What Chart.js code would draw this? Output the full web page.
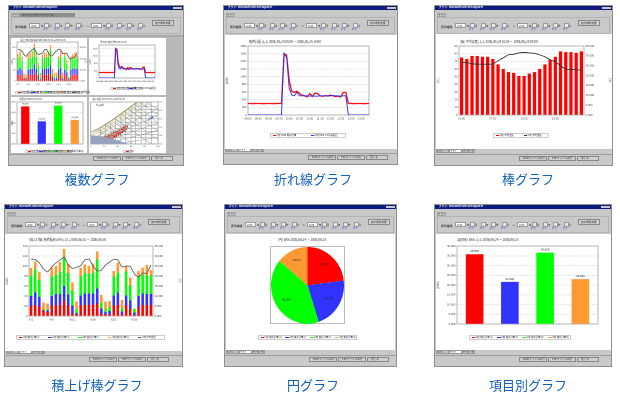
<!DOCTYPE html>
<html lang="ja">
<head>
<meta charset="utf-8">
<title>グラフ一覧</title>
<script src="https://cdn.jsdelivr.net/npm/chart.js"></script>
<style>
  html, body { margin: 0; padding: 0; background: #fff; overflow: hidden; }
  body { width: 620px; height: 402px; position: relative; font-family: "Noto Sans CJK JP", sans-serif; }
  #stage { position: absolute; left: 0; top: 0; width: 620px; height: 402px; filter: blur(0.4px); }
  #stage div, #stage canvas { position: absolute; box-sizing: border-box; }
  .cap { position: absolute; width: 160px; text-align: center; font-size: 13px; line-height: 16px; color: #1260bd; }
  .t { white-space: nowrap; line-height: 1; color: #333; font-size: 3px; }
</style>
</head>
<body>
<div id="stage"></div>
<script>
// ---- data ----
const captions = ['複数グラフ', '折れ線グラフ', '棒グラフ', '積上げ棒グラフ', '円グラフ', '項目別グラフ'];

// line chart
const lineTicks = ['08:00', '08:30', '09:00', '09:30', '10:00', '10:30', '11:00', '11:30', '12:00', '12:30', '13:00', '13:30'];
const lineNames = ['U棟 total 負荷計量', 'U棟 total 2003実績値'];
const lineRed = [300, 300, 295, 300, 300, 300, 295, 300, 300, 300, 295, 300, 300, 300, 1600, 1560, 900, 620, 590, 620, 560, 520, 500, 470, 560, 480, 570, 560, 500, 490, 500, 500, 520, 500, 480, 490, 470, 590, 590, 300, 300, 295, 300, 300, 300, 295, 300, 300];
const lineBlue = [0, 0, 0, 0, 0, 0, 0, 0, 0, 0, 0, 0, 0, 0, 1600, 1500, 700, 520, 500, 600, 500, 500, 500, 500, 490, 500, 490, 490, 500, 500, 500, 490, 500, 510, 500, 500, 490, 500, 500, 0, 0, 0, 0, 0, 0, 0, 0, 0];

// bar chart with line
const barHours = ['01:00', '', '', '', '', '', '07:00', '', '', '', '', '', '13:00', '', '', '', '', '', '19:00', '', '', '', '', ''];
const barNames = ['U棟 平均温度', 'U棟 平均湿度'];
const barValues = [75, 73, 77, 77, 76, 76, 73, 66, 60, 56, 55, 51, 51, 54, 56, 60, 66, 72, 76, 83, 82, 82, 81, 83];
const barLine = [26.6, 26.6, 26, 25.8, 25.8, 25.8, 25.9, 27.5, 29, 30.5, 30.8, 31.5, 31.7, 31.5, 31.2, 30.5, 29.5, 28, 27, 25, 23.3, 23, 23, 22.7];

// stacked chart
const stackDays = ['6/1', '', '', '', '', '6/6', '', '', '', '', '6/11', '', '', '', '', '6/16', '', '', '', '', '6/21', '', '', '', '', '6/26', '', '', '', ''];
const stackNames = ['U棟 負荷計量(1)', 'U棟 負荷計量(2)', 'U棟 負荷計量(3)', 'U棟 負荷計量(4)', 'U棟 平均温度'];
const stackRed = [20, 22, 18, 11, 8, 20, 22, 22, 30, 21, 6, 3, 21, 23, 22, 23, 25, 5, 3, 3, 21, 22, 3, 21, 14, 2, 17, 22, 22, 22];
const stackBlue = [20, 25, 20, 1, 3, 20, 22, 22, 30, 22, 15, 3, 20, 22, 23, 22, 30, 10, 5, 7, 20, 25, 6, 20, 17, 5, 23, 23, 22, 22];
const stackGreen = [40, 46, 34, 1, 3, 38, 38, 44, 57, 43, 30, 7, 38, 41, 39, 42, 58, 11, 5, 8, 38, 40, 7, 48, 30, 8, 40, 37, 38, 37];
const stackOrange = [16, 16, 16, 14, 11, 19, 18, 20, 17, 18, 16, 16, 17, 17, 16, 18, 16, 16, 16, 12, 11, 20, 16, 11, 16, 0, 10, 15, 20, 11];
const stackLine = [28.5, 28.2, 26.5, 23.5, 22, 24.5, 26.5, 28, 29.5, 25.5, 23.8, 24.3, 25.2, 28, 28.5, 25, 22.5, 22.8, 25.5, 27, 28.3, 28, 24.5, 25, 24.8, 21, 19.5, 21.5, 21.3, 25.5];

// pie and item charts
const itemNames = ['U棟 負荷計量(1)', 'U棟 負荷計量(2)', 'U棟 負荷計量(3)', 'U棟 負荷計量(4)'];
const itemValues = [35800, 21600, 36600, 23000];
const pieValues = [23, 22, 41, 14];
const itemColors = ['#ff0000', '#3333ff', '#00ff00', '#ff9933'];

// psychrometric chart, x/y on a 0-100 frame
const satCurve = [[1, 28], [15, 40], [30, 55], [45, 72], [60, 90], [69, 100]];
const coldZone = [[0, 20], [20, 17], [40, 8], [55, 0]];
const beigeLines = [[[0, 20], [72, 100]], [[3, 18], [76, 100]], [[7, 16], [80, 100]], [[5, 33], [28, 18]], [[10, 37], [32, 20]], [[15, 41], [36, 22]], [[20, 46], [41, 26]], [[25, 51], [46, 30]], [[30, 56], [51, 34]], [[35, 61], [56, 38]], [[40, 66], [61, 43]], [[45, 72], [66, 48]], [[50, 78], [71, 54]], [[55, 84], [76, 60]], [[60, 90], [81, 66]]];
const meshLines = [[[15, 0], [15, 40]], [[22, 0], [22, 47]], [[30, 0], [30, 55]], [[37, 0], [37, 63]], [[45, 0], [45, 72]], [[52, 0], [52, 80]], [[60, 0], [60, 90]], [[67, 0], [67, 98]], [[75, 0], [75, 100]], [[82, 0], [82, 100]], [[90, 0], [90, 100]], [[20, 15], [100, 15]], [[25, 22], [100, 22]], [[30, 30], [100, 30]], [[35, 37], [100, 37]], [[40, 45], [100, 45]], [[45, 52], [100, 52]], [[50, 60], [100, 60]], [[55, 67], [100, 67]], [[60, 75], [100, 75]], [[65, 82], [100, 82]], [[70, 90], [100, 90]], [[5, 12], [90, 100]], [[10, 10], [100, 85]], [[15, 8], [100, 68]], [[20, 6], [100, 50]], [[30, 4], [100, 32]], [[45, 2], [100, 16]], [[35, 62], [90, 0]], [[45, 72], [100, 10]], [[55, 84], [100, 30]], [[65, 96], [100, 50]], [[72, 100], [100, 70]], [[82, 100], [100, 82]], [[22, 48], [62, 0]], [[10, 35], [38, 0]]];
const redPoints = [[13, 10], [15, 13], [17, 9], [18, 15], [20, 11], [21, 17], [22, 8], [23, 13], [25, 18], [26, 12], [27, 21], [28, 16], [29, 10], [30, 19], [31, 23], [32, 14], [33, 20], [34, 26], [35, 17], [36, 22], [37, 28], [38, 19], [39, 25], [40, 30], [41, 22], [42, 27], [43, 33], [44, 25], [45, 30], [46, 36], [47, 28], [48, 34], [49, 39], [50, 31], [51, 37], [52, 42], [53, 35], [54, 41]];
const bluePoints = [[86, 57], [87, 59], [88, 60], [89, 61], [90, 62], [91, 63], [92, 64]];

// ---- page helpers ----
const stage = document.getElementById('stage');

function box(x, y, w, h, css) {
  const d = document.createElement('div');
  d.style.cssText = `left:${x}px;top:${y}px;width:${w}px;height:${h}px;` + (css || '');
  stage.appendChild(d);
  return d;
}

function note(x, y, text, css) {
  const d = box(x, y, 'auto', 'auto', css || '');
  d.className = 't';
  d.textContent = text;
  return d;
}

function legend(x, y, w, h, names, colors) {
  const d = box(x, y, w, h, 'background:#fff;border:1px solid #ccc;');
  const step = w / names.length;
  names.forEach((n, i) => {
    const s = document.createElement('div');
    s.style.cssText = `left:${step * i + 1.5}px;top:${h / 2 - 1.5}px;width:3.5px;height:1px;background:${colors[i]};`;
    d.appendChild(s);
    const l = document.createElement('div');
    l.className = 't';
    l.style.cssText = `left:${step * i + 5.5}px;top:${h / 2 - 2.5}px;font-size:2.4px;`;
    l.textContent = n;
    d.appendChild(l);
  });
}

// window chrome around each chart
function chrome(x, y, w, h, opt) {
  box(x, y, w, h, 'background:#c9c9c9;border:1px solid #8f8f8f;');
  box(x + 1, y + 1, w - 2, 3.5, 'background:#0b1c7e;');
  note(x + 5, y + 1.4, 'グラフ - Microsoft Internet Explorer', 'color:#fff;font-weight:700;font-size:2.6px;');
  box(x + w - 11, y + 1.5, 9, 2.5, 'background:#c6c6c6;');
  // tabs on top
  box(x + 3, y + 8, 9, 4, 'background:#d4d4d4;border:1px solid #a8a8a8;');
  note(x + 4, y + 9, opt.tabs[0], 'font-size:2.4px;');
  if (opt.tabs.length > 1) {
    box(x + 12, y + 8, 55, 4, 'background:#8d8d8d;');
    note(x + 14, y + 9, opt.tabs.slice(1).join('  '), 'font-size:2.4px;');
  }
  box(x + 3, y + 12, w - 6, 17, 'border:1px solid #b3b3b3;');
  note(x + 7, y + 20.5, '表示期間', 'font-weight:700;font-size:2.8px;');
  // the two date groups
  [21, 83].forEach(g => {
    box(x + g, y + 18, 11, 5, 'background:#fff;border:1px solid #999;');
    note(x + g + 2, y + 19.5, '2006', 'font-size:2.4px;');
    note(x + g + 12, y + 19.5, '年', 'font-size:2.4px;');
    [15, 26, 36, 47].forEach((o, i) => {
      box(x + g + o, y + 18, 4.5, 5, 'background:#e8e8e8;border:1px solid #999;');
      note(x + g + o + 5, y + 19.5, '月日時分'[i], 'font-size:2.4px;');
      note(x + g + o - 1, y + 24, '前 次', 'color:#5560d0;font-size:2px;');
    });
  });
  note(x + 78.5, y + 19.5, '～', 'font-size:2.6px;');
  box(x + 144, y + 15, 22, 5.5, 'background:#d2d2d2;border:1px solid #888;');
  note(x + 147, y + 16.5, '表示期間変更', 'font-size:2.6px;');
  // bottom bar
  box(x + 1, y + h - 12, w - 2, 1, 'background:#9d9d9d;');
  [[85, 28, 'Excelファイル出力'], [114, 28, 'PDFファイル出力'], [143, 22, '閉じる']].forEach(b => {
    box(x + b[0], y + h - 10.5, b[1], 5.5, 'background:#cfcfcf;border:1px solid #888;');
    note(x + b[0] + 4, y + h - 9, b[2], 'font-size:2.6px;');
  });
  if (opt.bottomTabs) {
    opt.bottomTabs.forEach((t, i) => {
      box(x + 2 + i * 13, y + h - 17, 13, 4, `background:${i === 1 ? '#fff' : '#c0c0c0'};border:1px solid #9a9a9a;`);
      note(x + 3 + i * 13, y + h - 16, t, 'font-size:2.2px;');
    });
  }
}

// ---- chart helpers ----
const frame = {
  id: 'frame',
  beforeDatasetsDraw(c) {
    const a = c.chartArea, g = c.ctx;
    g.save();
    g.strokeStyle = '#b4b4b4';
    g.lineWidth = 1;
    g.strokeRect(a.left, a.top, a.width, a.height);
    g.restore();
  }
};

const barLabels = {
  id: 'barLabels',
  afterDatasetsDraw(c, args, o) {
    if (!o.text) return;
    const g = c.ctx, meta = c.getDatasetMeta(0);
    g.save();
    g.font = `${o.size}px "Liberation Sans"`;
    g.fillStyle = '#222';
    g.textAlign = 'center';
    meta.data.forEach((el, i) => {
      if (o.pie) {
        const p = el.getCenterPoint();
        const a = (el.startAngle + el.endAngle) / 2;
        g.fillText(o.text[i], p.x + Math.cos(a) * el.outerRadius * 0.2, p.y + Math.sin(a) * el.outerRadius * 0.2);
      } else {
        g.fillText(o.text[i], el.x, el.y - 2);
      }
    });
    g.restore();
  }
};

function yAxis(side, width, max, step, fmt, size, title, showGrid) {
  return {
    position: side,
    min: 0,
    max: max,
    afterFit(s) { s.width = width; },
    border: { display: false, dash: [2, 1] },
    grid: { display: showGrid, color: '#cfcfcf', drawTicks: false, lineWidth: 0.6 },
    ticks: { stepSize: step, padding: 1.5, font: { size: size, family: 'Liberation Sans' }, color: '#444', callback: fmt },
    title: { display: true, text: title, font: { size: size, family: 'Noto Sans CJK JP' }, color: '#444', padding: 0 }
  };
}

function xAxis(height, size, extra) {
  return Object.assign({
    afterFit(s) { s.height = height; },
    grid: { display: false, drawTicks: false },
    border: { display: false },
    ticks: { padding: 2, maxRotation: 0, autoSkip: false, font: { size: size, family: 'Liberation Sans' }, color: '#444' }
  }, extra || {});
}

// area = white region of the page, plot = wanted plot rectangle, both in page pixels
function draw(area, plot, type, labels, datasets, scales, plugOpts) {
  const c = document.createElement('canvas');
  c.style.left = area[0] + 'px';
  c.style.top = area[1] + 'px';
  stage.appendChild(c);
  c.width = area[2] - area[0];
  c.height = area[3] - area[1];
  const rightW = area[2] - plot[2];
  return new Chart(c, {
    type: type,
    data: { labels: labels, datasets: datasets },
    plugins: [frame, barLabels],
    options: {
      responsive: false,
      animation: false,
      devicePixelRatio: 2,
      layout: {
        autoPadding: false,
        padding: { top: plot[1] - area[1], left: 0, right: scales.y1 ? 0 : rightW, bottom: 0 }
      },
      scales: scales,
      plugins: Object.assign({ legend: { display: false }, tooltip: { enabled: false } }, plugOpts || {})
    }
  });
}

const yen = v => (v / 1000).toFixed(3).replace('.', ',');
const num = v => String(v);
const dec = v => v.toFixed(3);

function lineChart(area, plot, size) {
  const ticks = [];
  lineRed.forEach((v, i) => ticks.push(i % 4 === 0 ? lineTicks[i / 4] : ''));
  draw(area, plot, 'line', ticks, [
    { data: lineBlue, borderColor: '#2a2aff', borderWidth: 0.9, pointRadius: 0, tension: 0 },
    { data: lineRed, borderColor: '#ff1010', borderWidth: 1.3, pointRadius: 0, tension: 0 }
  ], {
    x: xAxis(area[3] - plot[3], size),
    y: yAxis('left', plot[0] - area[0], 1800, 200, num, size, '[kWh]', true)
  });
}

function stackChart(area, plot, size) {
  const cols = itemColors.map((col, i) => ({
    type: 'bar', data: [stackRed, stackBlue, stackGreen, stackOrange][i], backgroundColor: col,
    stack: 's', yAxisID: 'y', barPercentage: 0.62, categoryPercentage: 1, order: 2
  }));
  draw(area, plot, 'bar', stackDays, cols.concat([{
    type: 'line', data: stackLine, yAxisID: 'y1', borderColor: '#555', borderWidth: 0.8,
    pointRadius: 0, tension: 0.1, order: 1
  }]), {
    x: xAxis(area[3] - plot[3], size, { stacked: true }),
    y: Object.assign(yAxis('left', plot[0] - area[0], 140, 20, num, size, '[kWh]', true), { stacked: true }),
    y1: yAxis('right', area[2] - plot[2], 35, 5, v => v.toFixed(3).replace('.', ','), size, '[℃]', false)
  });
}

function itemChart(area, plot, size) {
  draw(area, plot, 'bar', itemNames.map(() => ''), [{
    data: itemValues, backgroundColor: itemColors, barPercentage: 0.5, categoryPercentage: 1
  }], {
    x: xAxis(area[3] - plot[3], size),
    y: yAxis('left', plot[0] - area[0], 40000, 5000, yen, size, '[kWh]', true)
  }, { barLabels: { text: itemValues.map(yen), size: size } });
}

function psychroChart(area, plot) {
  const toPts = a => a.map(p => ({ x: p[0], y: p[1] }));
  const sets = [{ data: toPts(coldZone), showLine: true, borderColor: '#8d9ab8', backgroundColor: '#98a4bd', fill: 'origin', pointRadius: 0, borderWidth: 0.5 }];
  meshLines.forEach(l => sets.push({ data: toPts(l), showLine: true, borderColor: '#8f9694', borderWidth: 0.5, pointRadius: 0 }));
  beigeLines.forEach(l => sets.push({ data: toPts(l), showLine: true, borderColor: '#c4bc88', borderWidth: 0.6, pointRadius: 0 }));
  sets.push({ data: toPts(satCurve), showLine: true, borderColor: '#8b8b70', borderWidth: 0.8, pointRadius: 0, tension: 0.2 });
  sets.push({ data: toPts(redPoints), backgroundColor: '#e01010', pointRadius: 1, borderWidth: 0 });
  sets.push({ data: toPts(bluePoints), backgroundColor: '#3050c0', pointRadius: 0.7, borderWidth: 0 });
  draw(area, plot, 'scatter', [], sets, {
    x: Object.assign(xAxis(area[3] - plot[3], 2.2), { type: 'linear', min: 0, max: 100, ticks: { stepSize: 20, padding: 1, font: { size: 2.2 }, color: '#444' } }),
    y: {
      min: 0, max: 100, position: 'right',
      afterFit(s) { s.width = area[2] - plot[2]; },
      grid: { display: false, drawTicks: false }, border: { display: false },
      ticks: { stepSize: 20, padding: 0.5, font: { size: 2.2 }, color: '#444', callback: v => (v / 2500).toFixed(3) }
    }
  });
}

// ---- 1: 複数グラフ ----
chrome(8, 5, 176, 161, { tabs: ['グラフ(1)', 'グラフ(2)', 'グラフ(3)', 'グラフ(4)'] });
box(9, 35, 174, 2, 'background:#a9a9a9;');
box(9, 37, 174, 117, 'background:#b9b9b9;');
box(11, 38, 76, 57, 'background:#fff;');
box(89, 38, 77, 57, 'background:#fff;');
box(11, 97, 76, 56, 'background:#fff;');
box(89, 97, 77, 56, 'background:#fff;');
stackChart([11, 38, 87, 88], [17, 42, 78, 81], 2.2);
note(20, 40, '[積上げ棒] 負荷種別 kWh 2006/06/01～2006/06/30', 'font-size:2px;');
legend(15, 91, 68, 3.2, stackNames, itemColors.concat(['#555']));
lineChart([89, 38, 166, 85], [99, 45, 155, 78], 2.2);
note(100, 42, '[折れ線] 負荷計量 2006/05/25', 'font-size:2px;');
legend(110, 87, 33, 3.2, lineNames, ['#ff1010', '#2a2aff']);
itemChart([11, 97, 87, 149], [17, 102, 83, 144], 2.2);
note(19, 99, '[項目別] kWh 2006/06/24', 'font-size:2px;');
legend(25, 150, 47, 3.2, itemNames, itemColors);
psychroChart([89, 97, 166, 149], [91, 102, 162, 144]);
note(92, 99, '[空気線図] 2006/06/01～2006/06/30', 'font-size:2px;');
note(96, 105, '外気条件', 'font-size:2px;');
legend(123, 150, 9, 3.2, ['外気'], ['#e01010']);

// ---- 2: 折れ線グラフ ----
chrome(223, 5, 175, 160, { tabs: ['グラフ'], bottomTabs: ['ﾏﾄﾘｸｽ', 'グラフ', 'データ一覧'] });
box(225, 35, 172, 114, 'background:#fff;');
lineChart([225, 35, 397, 130], [248, 46, 369, 115], 2.8);
note(249, 40.5, '負荷計量 (1/1) 2006/05/25 08:00 ～ 2006/05/25 14:00');
legend(270, 133, 76, 5, lineNames, ['#ff1010', '#2a2aff']);

// ---- 3: 棒グラフ ----
chrome(434, 5, 179, 161, { tabs: ['グラフ'], bottomTabs: ['ﾏﾄﾘｸｽ', 'グラフ', 'データ一覧'] });
box(436, 34, 176, 115, 'background:#fff;');
draw([436, 34, 612, 130], [459, 46, 584, 115], 'bar', barHours, [
  { type: 'bar', data: barValues, backgroundColor: '#ff0000', yAxisID: 'y', barPercentage: 0.62, categoryPercentage: 1, order: 2 },
  { type: 'line', data: barLine, yAxisID: 'y1', borderColor: '#333', borderWidth: 0.9, pointRadius: 0, tension: 0.3, order: 1 }
], {
  x: xAxis(15, 2.8),
  y: yAxis('left', 23, 90, 10, num, 2.8, '[℃]', true),
  y1: yAxis('right', 28, 35, 5, dec, 2.8, '[%]', false)
});
note(460, 40.5, '[棒] 平均温度 (1/1) 2006/06/24 01:00 ～ 2006/06/25 00:00');
legend(493, 133, 56, 5, barNames, ['#ff0000', '#333']);

// ---- 4: 積上げ棒グラフ ----
chrome(4, 204, 179, 163, { tabs: ['グラフ'], bottomTabs: ['ﾏﾄﾘｸｽ', 'グラフ', 'データ一覧'] });
box(5, 234, 177, 117, 'background:#fff;');
stackChart([5, 234, 182, 332], [29, 246, 153, 316], 2.8);
note(29, 238.5, '[積上げ棒] 負荷種別 kWh (1/1) 2006/06/01 ～ 2006/06/30');
legend(16, 335, 149, 5, stackNames, itemColors.concat(['#555']));

// ---- 5: 円グラフ ----
chrome(224, 204, 173, 163, { tabs: ['グラフ'], bottomTabs: ['ﾏﾄﾘｸｽ', 'グラフ', 'データ一覧'] });
box(226, 234, 169, 116, 'background:#fff;');
box(270, 245.5, 75, 78, 'border:1px solid #bbb;');
const pieCanvas = document.createElement('canvas');
pieCanvas.width = 73;
pieCanvas.height = 73;
pieCanvas.style.cssText = 'left:271px;top:246.5px;transform:scaleY(1.05);transform-origin:top;';
stage.appendChild(pieCanvas);
new Chart(pieCanvas, {
  type: 'pie',
  data: { labels: itemNames, datasets: [{ data: pieValues, backgroundColor: itemColors, borderWidth: 0 }] },
  plugins: [barLabels],
  options: {
    responsive: false, animation: false, devicePixelRatio: 2,
    plugins: {
      legend: { display: false }, tooltip: { enabled: false },
      barLabels: { text: pieValues.map(v => v.toFixed(1) + '%'), size: 3, pie: true }
    }
  }
});
note(278, 238.5, '[円] kWh 2006/06/24 ～ 2006/06/25');
legend(258, 335, 99, 5, itemNames, itemColors);

// ---- 6: 項目別グラフ ----
chrome(434, 204, 178, 163, { tabs: ['グラフ'], bottomTabs: ['ﾏﾄﾘｸｽ', 'グラフ', 'データ一覧'] });
box(436, 234, 175, 116, 'background:#fff;');
itemChart([436, 234, 611, 333], [457, 246, 598, 324], 2.8);
note(457, 238.5, '[項目別] kWh (1/1) 2006/06/24 ～ 2006/06/25');
legend(469, 335, 102, 5, itemNames, itemColors);

// ---- captions ----
[[17, 171], [233, 171], [448, 171], [17, 377], [233, 377], [448, 377]].forEach((p, i) => {
  const d = document.createElement('div');
  d.className = 'cap';
  d.style.left = p[0] + 'px';
  d.style.top = p[1] + 'px';
  d.textContent = captions[i];
  document.body.appendChild(d);
});
</script>
</body>
</html>
